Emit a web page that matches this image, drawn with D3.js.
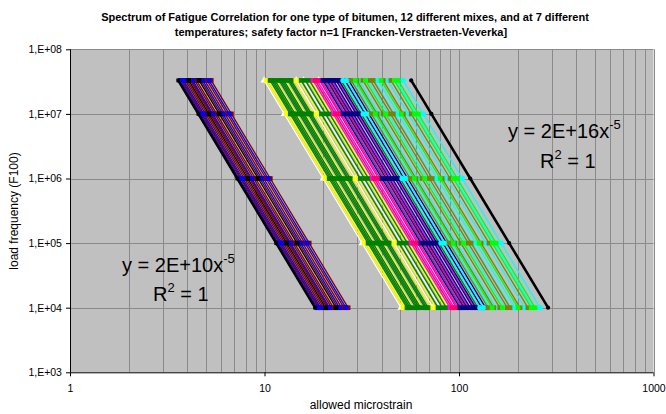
<!DOCTYPE html>
<html>
<head>
<meta charset="utf-8">
<script src="https://cdn.jsdelivr.net/npm/d3@7"></script>
<style>
    body { margin: 0; background: #fff; }
    text { font-family: "Liberation Sans", Arial, sans-serif; }
</style>
</head>
<body>
<div id="chart"></div>
<script>
// load frequencies where every line carries a marker
const levels = [1e4, 1e5, 1e6, 1e7, 3.3e7]
// trendline slope shown on the chart (y = a x^-5)
const slope = -5

// allowed microstrain at N = 1E+04, grouped by line colour
const leftBlack = [18.2, 20.6, 23.3]
const leftBlue = [18.6, 19.4, 21.6, 24.3, 26.2]
const leftDarkRed = [18.9, 19.1, 19.8, 20.2, 21.0, 21.3, 22.1, 22.6, 23.8, 24.9, 25.6, 26.9]

const rightWhite = [50.3, 73.5, 80.2, 96]
const rightYellow = [51.5, 52.8, 58.0, 64.5, 71.8, 76.1, 84.7, 88]
const rightGreen = [54.0, 55.0, 56.0, 57.2, 60.1, 61.2, 62.3, 63.5, 66.9, 68.0, 69.3, 78.0, 82.0, 86, 103, 125]
const rightMagenta = [89.9, 94.3, 98.8, 104, 112, 120]
const rightRed = [92.0, 97.0, 108]
const rightNavy = [101, 106, 110, 114, 118, 122, 131, 137]
const rightCyan = [128, 134, 144, 155, 172, 185, 194, 218, 240, 261]
const rightOlive = [141, 151, 162, 177, 183, 206, 226]
const rightLime = [148, 167, 201, 235, 246]
const rightBlack = [287]

const series = [
    {values: leftDarkRed, color: "#800000", marker: d3.symbolSquare},
    {values: leftBlue, color: "#0000ff", marker: d3.symbolSquare},
    {values: leftBlack, color: "#000000", marker: d3.symbolSquare},
    {values: rightWhite, color: "#ffffff", marker: d3.symbolTriangle},
    {values: rightYellow, color: "#ffff00", marker: d3.symbolSquare},
    {values: rightGreen, color: "#008000", marker: d3.symbolSquare},
    {values: rightMagenta, color: "#ff00ff", marker: d3.symbolSquare},
    {values: rightRed, color: "#ff0066", marker: d3.symbolSquare},
    {values: rightNavy, color: "#000080", marker: d3.symbolSquare},
    {values: rightCyan, color: "#00ffff", marker: d3.symbolCircle},
    {values: rightOlive, color: "#808000", marker: d3.symbolSquare},
    {values: rightLime, color: "#00ff00", marker: d3.symbolSquare},
    {values: rightBlack, color: "#000000", marker: d3.symbolCircle}
]
// the two outer black edges are drawn thicker
const thickEdges = [18.2, 287]

const titleLines = ["Spectrum of Fatigue Correlation for one type of bitumen, 12 different mixes, and at 7 different",
    "temperatures; safety factor n=1 [Francken-Verstraeten-Veverka]"]
const yTicks = [1e3, 1e4, 1e5, 1e6, 1e7, 1e8]
const yTickLabels = ["1,E+03", "1,E+04", "1,E+05", "1,E+06", "1,E+07", "1,E+08"]
const xTicks = [1, 10, 100, 1000]
const xTickLabels = ["1", "10", "100", "1000"]

const W = 666, H = 414
const svg = d3.select("#chart").append("svg").attr("width", W).attr("height", H)

const x = d3.scaleLog().domain([1, 1000]).range([70, 653.5])
const y = d3.scaleLog().domain([1e3, 1e8]).range([372.3, 49.3])

// plot background
svg.append("rect").attr("x", x(1)).attr("y", y(1e8))
    .attr("width", x(1000) - x(1)).attr("height", y(1e3) - y(1e8))
    .attr("fill", "#c0c0c0")

// grid: vertical on every 1..9 of each decade, horizontal on decades
let vGrid = []
for (let d = 1; d < 1000; d *= 10) {
    for (let k = 1; k <= 9; k++) vGrid.push(d * k)
}
vGrid.push(1000)
svg.append("g").selectAll("line").data(vGrid.filter(v => v > 1)).join("line")
    .attr("x1", d => Math.round(x(d)) + 0.5).attr("x2", d => Math.round(x(d)) + 0.5)
    .attr("y1", y(1e8)).attr("y2", y(1e3))
    .attr("stroke", "#8a8a8a").attr("stroke-width", 1)
svg.append("g").selectAll("line").data(yTicks.filter(v => v > 1e3)).join("line")
    .attr("x1", x(1)).attr("x2", x(1000))
    .attr("y1", d => Math.round(y(d)) + 0.5).attr("y2", d => Math.round(y(d)) + 0.5)
    .attr("stroke", "#8a8a8a").attr("stroke-width", 1)

// lines and markers
const plot = svg.append("g")
const line = d3.line().x(d => x(d[0])).y(d => y(d[1]))
const pts = x0 => levels.map(N => [x0 * Math.pow(N / levels[0], 1 / slope), N])

function drawLine(v, s) {
    let thick = thickEdges.includes(v)
    plot.append("path").datum(pts(v))
        .attr("d", line)
        .attr("fill", "none")
        .attr("stroke", s.color)
        .attr("stroke-width", thick ? 2.6 : 1.3)
    plot.append("g").selectAll("path").data(pts(v)).join("path")
        .attr("d", d3.symbol().type(s.marker).size(thick ? 14 : 22))
        .attr("transform", d => "translate(" + x(d[0]) + "," + y(d[1]) + ")")
        .attr("fill", s.color)
}

series.forEach(s => s.values.filter(v => !thickEdges.includes(v)).forEach(v => drawLine(v, s)))
// thick edges on top
series.forEach(s => s.values.filter(v => thickEdges.includes(v)).forEach(v => drawLine(v, s)))

// axes
const xAxis = d3.axisBottom(x).tickValues(xTicks).tickSize(4)
    .tickFormat((d, i) => xTickLabels[i])
const yAxis = d3.axisLeft(y).tickValues(yTicks).tickSize(4)
    .tickFormat((d, i) => yTickLabels[i])

const gx = svg.append("g").attr("transform", "translate(0," + y(1e3) + ")").call(xAxis)
const gy = svg.append("g").attr("transform", "translate(" + x(1) + ",0)").call(yAxis)
gx.select(".domain").attr("d", "M" + x(1) + ",0.5H" + x(1000)).attr("stroke", "#000")
gy.select(".domain").attr("d", "M0.5," + y(1e8) + "V" + y(1e3)).attr("stroke", "#000")
gx.selectAll("text").attr("font-size", "10.5px").attr("fill", "#000").attr("dy", "1.2em")
gy.selectAll("text").attr("font-size", "10.5px").attr("fill", "#000").attr("dx", "-0.1em")
gx.selectAll(".tick line").attr("stroke", "#000")
gy.selectAll(".tick line").attr("stroke", "#000")

// title
svg.append("g").selectAll("text").data(titleLines).join("text")
    .attr("x", (d, i) => i ? 341 : 345).attr("y", (d, i) => 21 + i * 15)
    .attr("text-anchor", "middle")
    .attr("font-size", "11px").attr("font-weight", "bold")
    .text(d => d)

// axis titles
svg.append("text").attr("x", 361).attr("y", 409).attr("text-anchor", "middle")
    .attr("font-size", "12px").text("allowed microstrain")
svg.append("text").attr("transform", "translate(18,211) rotate(-90)")
    .attr("text-anchor", "middle").attr("font-size", "12px").text("load frequency (F100)")

// trendline equations
function equation(px, py, coef, rx, ry) {
    let t = svg.append("text").attr("x", px).attr("y", py).attr("font-size", "20px")
    t.append("tspan").text("y = " + coef + "x")
    t.append("tspan").attr("font-size", "13px").attr("dy", -9).text("-5")
    let r = svg.append("text").attr("x", rx).attr("y", ry).attr("font-size", "20px")
    r.append("tspan").text("R")
    r.append("tspan").attr("font-size", "13px").attr("dy", -9).text("2")
    r.append("tspan").attr("dy", 9).text(" = 1")
}
equation(122, 272, "2E+10", 153, 301)
equation(508, 138, "2E+16", 540, 168)
</script>
</body>
</html>
